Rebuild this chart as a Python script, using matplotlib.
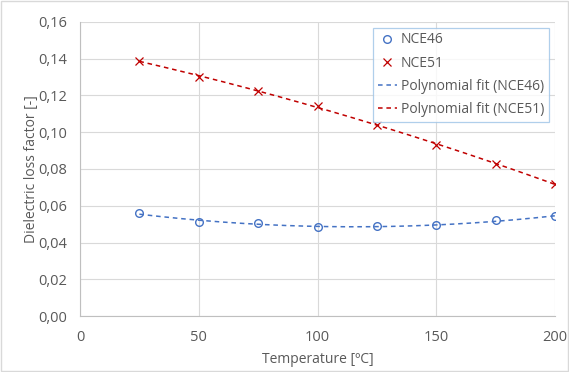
import numpy as np
import matplotlib.pyplot as plt
from matplotlib.ticker import FuncFormatter

# data
temps = [25, 50, 75, 100, 125, 150, 175, 200]
nce46 = [0.0560, 0.0510, 0.0505, 0.0485, 0.0488, 0.0495, 0.0520, 0.0542]
nce51 = [0.1390, 0.1298, 0.1225, 0.1145, 0.1040, 0.0932, 0.0826, 0.0720]

BLUE = "#4472C4"
RED = "#C00000"
GREY = "#595959"

plt.rcParams['font.family'] = ['Open Sans', 'DejaVu Sans']

fig = plt.figure(figsize=(5.69, 3.72), dpi=100)
ax = fig.add_axes([0.1406, 0.1505, 0.8348, 0.7904])

# polynomial trend lines (2nd order, like Excel)
xf = np.linspace(min(temps), max(temps), 200)
fit46 = np.polyval(np.polyfit(temps, nce46, 2), xf)
fit51 = np.polyval(np.polyfit(temps, nce51, 2), xf)

ax.plot(temps, nce46, 'o', ms=5.5, mfc='none', mec=BLUE, mew=1.0, label='NCE46', zorder=3)
ax.plot(temps, nce51, 'x', ms=5.5, color=RED, mew=0.9, label='NCE51', zorder=3)
ax.plot(xf, fit46, '--', color=BLUE, lw=1.1, dashes=(3, 2.5), label='Polynomial fit (NCE46)', zorder=2)
ax.plot(xf, fit51, '--', color=RED, lw=1.1, dashes=(3, 2.5), label='Polynomial fit (NCE51)', zorder=2)

ax.set_xlim(0, 200)
ax.set_ylim(0, 0.16)
ax.set_xticks([0, 50, 100, 150, 200])
ax.set_yticks(np.arange(0, 0.161, 0.02))
ax.yaxis.set_major_formatter(FuncFormatter(lambda v, p: f"{v:.2f}".replace('.', ',')))

ax.grid(True, color='#D9D9D9', lw=0.8)
ax.set_axisbelow(True)
for s in ['top', 'right']:
    ax.spines[s].set_visible(False)
for s in ['left', 'bottom']:
    ax.spines[s].set_color('#BFBFBF')
    ax.spines[s].set_linewidth(0.8)
ax.tick_params(length=0, labelsize=10.5, colors=GREY)
ax.tick_params(axis='y', pad=9)
ax.tick_params(axis='x', pad=10)

ax.set_xlabel('Temperature [ºC]', fontsize=10, color=GREY, labelpad=5)
ax.set_ylabel('Dielectric loss factor [-]', fontsize=10, color=GREY, labelpad=0)

leg = ax.legend(loc='upper right', bbox_to_anchor=(0.9958, 0.995), fontsize=10,
                frameon=True, fancybox=False, handlelength=1.4, handletextpad=0.25,
                borderpad=0.35, labelspacing=0.58, borderaxespad=0.3)
leg.get_frame().set_edgecolor('#9DC3E6')
leg.get_frame().set_linewidth(0.9)
for t in leg.get_texts():
    t.set_color(GREY)

# outer chart border
fig.patches.append(plt.Rectangle((0.002, 0.002), 0.996, 0.994, transform=fig.transFigure,
                                 fill=False, edgecolor='#D9D9D9', lw=1))

fig.savefig('out.png', dpi=100, facecolor='white')
